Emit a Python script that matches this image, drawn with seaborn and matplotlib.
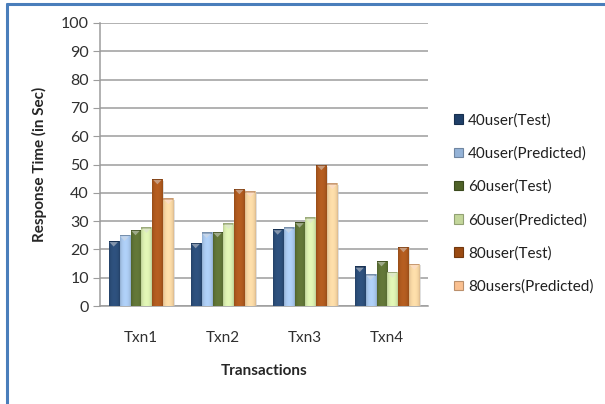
import numpy as np
import pandas as pd
import matplotlib
matplotlib.use("Agg")
import matplotlib.pyplot as plt
import matplotlib.colors as mcolors
from matplotlib.patches import Rectangle, Polygon
from matplotlib.lines import Line2D
import seaborn as sns

# Response times per transaction (seconds)
transactions = ["Txn1", "Txn2", "Txn3", "Txn4"]
series = ["40user(Test)", "40user(Predicted)", "60user(Test)",
          "60user(Predicted)", "80user(Test)", "80users(Predicted)"]
u40_test = [23, 22.4, 27.2, 14]
u40_pred = [25, 26, 27.8, 11.2]
u60_test = [27, 26.3, 29.7, 16]
u60_pred = [27.8, 29.2, 31.3, 12]
u80_test = [45, 41.5, 50, 21]
u80_pred = [38, 40.5, 43.3, 14.8]
y_ticks = list(range(0, 101, 10))

colors = ["#1F3F68", "#95B3D7", "#4F6228", "#C3D69B", "#9A4A12", "#FAC090"]

values = [u40_test, u40_pred, u60_test, u60_pred, u80_test, u80_pred]
df = pd.DataFrame({
    "Transaction": np.repeat([transactions], len(series), axis=0).ravel(),
    "Series": np.repeat(series, len(transactions)),
    "Response": np.concatenate(values),
})

sns.set_style("white")
plt.rcParams["font.family"] = ["Lato", "DejaVu Sans"]

fig = plt.figure(figsize=(6.05, 4.04), dpi=100)
ax = fig.add_axes([100 / 605, 1 - 306 / 404, 328 / 605, 283 / 404])

sns.barplot(data=df, x="Transaction", y="Response", hue="Series",
            palette=colors, width=0.8, gap=0.08, ax=ax, legend=False,
            saturation=1, edgecolor="none", zorder=3)

ax.set_ylim(0, 100)
ax.set_yticks(y_ticks)
ax.set_xlim(-0.5, len(transactions) - 0.5)
ax.yaxis.grid(True, color="#9C9C9C", linewidth=1.1, zorder=0)
ax.xaxis.grid(False)
for side in ["top", "right"]:
    ax.spines[side].set_visible(False)
ax.spines["left"].set_color("#9C9C9C")
ax.spines["bottom"].set_color("#9C9C9C")
ax.spines["left"].set_linewidth(1.1)
ax.spines["bottom"].set_linewidth(1.1)
ax.tick_params(axis="y", length=5, color="#9C9C9C", labelsize=11.5,
               labelcolor="#303030", pad=3, left=True)
ax.tick_params(axis="x", length=0, labelsize=11, labelcolor="#303030", pad=18)
ax.set_xlabel("Transactions", fontsize=11, fontweight="bold", labelpad=14)
ax.set_ylabel("Response Time (in Sec)", fontsize=11, fontweight="bold", labelpad=10)

# Bevelled look: horizontal shading plus a small triangle on top of each bar
px_per_unit = ax.get_window_extent().height / 100.0
patches = [p for p in ax.patches if isinstance(p, Rectangle) and p.get_height() > 0]
t = np.linspace(0, 1, 64)
profile = 0.5 + 0.5 * np.sin(np.pi * t) ** 0.5
for p in patches:
    base = np.array(mcolors.to_rgb(p.get_facecolor()))
    dark = base * 0.68
    light = np.clip(base * 1.1 + 0.05, 0, 1)
    grad = dark[None, :] + (light - dark)[None, :] * profile[:, None]
    img = np.repeat(grad[None, :, :], 2, axis=0)
    x0, w, h = p.get_x(), p.get_width(), p.get_height()
    im = ax.imshow(img, extent=[x0, x0 + w, 0, h], aspect="auto",
                   zorder=3.1, interpolation="bilinear")
    im.set_clip_path(p)
    tri_h = 4.5 / px_per_unit
    tri_color = np.clip(base + (1 - base) * 0.45, 0, 1)
    cap_h = 1.2 / px_per_unit
    ax.add_patch(Rectangle((x0, h - cap_h), w, cap_h,
                           facecolor=np.clip(base * 0.8, 0, 1), edgecolor="none",
                           zorder=3.15))
    ax.add_patch(Polygon([[x0 + w * 0.08, h - cap_h], [x0 + w * 0.92, h - cap_h],
                          [x0 + w * 0.5, h - cap_h - tri_h]], closed=True,
                         facecolor=tri_color, edgecolor="none", zorder=3.2))
    ax.add_patch(Rectangle((x0 + w, 0), w * 0.14, h * 0.985,
                           facecolor="#C8C8C8", edgecolor="none", alpha=0.55,
                           zorder=2.9))

# Legend on the right
handles = [Rectangle((0, 0), 1, 1, facecolor=c,
                     edgecolor=np.array(mcolors.to_rgb(c)) * 0.75, linewidth=0.8)
           for c in colors]
fig.legend(handles, series, loc="upper left", bbox_to_anchor=(448 / 605, 1 - 107 / 404),
           frameon=False, fontsize=11, labelspacing=1.24, handlelength=0.6,
           handleheight=0.6, handletextpad=0.3, borderaxespad=0,
           labelcolor="#202020")

# Blue chart frame along the left and top edges
frame_c = "#4A7EBB"
fig.add_artist(Line2D([6.5 / 605, 6.5 / 605], [0, 1 - 3.5 / 404], color=frame_c,
                      linewidth=2.2, transform=fig.transFigure))
fig.add_artist(Line2D([6.5 / 605, 1], [1 - 3.5 / 404, 1 - 3.5 / 404], color=frame_c,
                      linewidth=2.2, transform=fig.transFigure))

fig.savefig("out.png", dpi=100)
